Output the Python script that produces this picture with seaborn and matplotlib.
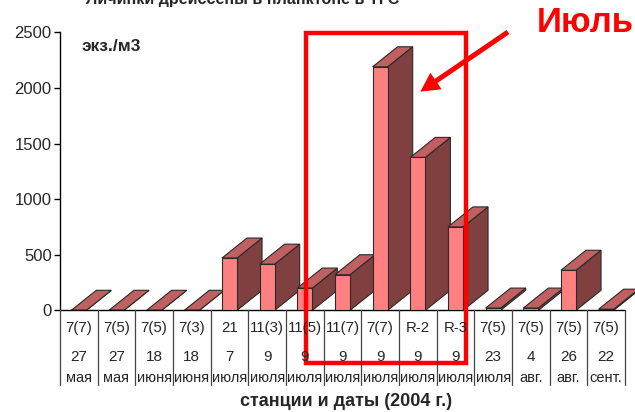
import numpy as np
import pandas as pd
import matplotlib
matplotlib.use("Agg")
import matplotlib.pyplot as plt
from matplotlib.patches import Polygon, Rectangle, FancyArrow
import seaborn as sns

# Stations, sampling dates and larvae density (ind./m3)
stations = ["7(7)", "7(5)", "7(5)", "7(3)", "21", "11(3)", "11(5)", "11(7)",
            "7(7)", "R-2", "R-3", "7(5)", "7(5)", "7(5)", "7(5)"]
days = ["27", "27", "18", "18", "7", "9", "9", "9", "9", "9", "9",
        "23", "4", "26", "22"]
months = ["мая", "мая", "июня", "июня", "июля", "июля", "июля", "июля",
          "июля", "июля", "июля", "июля", "авг.", "авг.", "сент."]
density = [0, 0, 0, 0, 470, 415, 200, 320, 2190, 1375, 750, 20, 20, 360, 10]

sns.set_theme(style="white")
plt.rcParams["font.family"] = ["Liberation Sans", "DejaVu Sans"]

W, H = 635, 412
fig = plt.figure(figsize=(W / 100, H / 100), dpi=100)
fig.patch.set_facecolor("white")

# axes box in pixel units
x0, x1, y_top, y_bot = 60, 625, 32.3, 310.3
ax = fig.add_axes([x0 / W, (H - y_bot) / H, (x1 - x0) / W, (y_bot - y_top) / H])

df = pd.DataFrame({"idx": np.arange(len(density)), "density": density})
FRONT = "#ff8080"
TOP = "#c06060"
SIDE = "#804040"
EDGE = "#2a2a2a"
sns.barplot(data=df, x="idx", y="density", color=FRONT, saturation=1,
            width=0.4, edgecolor=EDGE, linewidth=0.8, ax=ax, zorder=3)
ax.set_xlim(-0.5, len(density) - 0.5)
ax.set_ylim(0, 2500)
ax.set_yticks([0, 500, 1000, 1500, 2000, 2500])
ax.set_xticks([])
ax.set_xlabel("")
ax.set_ylabel("")
for s in ["top", "right"]:
    ax.spines[s].set_visible(False)
for s in ["left", "bottom"]:
    ax.spines[s].set_color("black")
    ax.spines[s].set_linewidth(1.0)
ax.tick_params(axis="y", direction="out", length=4, width=1, color="black",
               labelsize=12, pad=2, left=True)

# 3D depth of bars: offset in display pixels
DX, DY = 25, 20
fig.canvas.draw()
to_disp = ax.transData
to_data = ax.transData.inverted()
for p in list(ax.patches):
    xl = p.get_x()
    xr = xl + p.get_width()
    h = p.get_height()
    pts = to_disp.transform([(xl, h), (xr, h), (xr, 0)])
    (lx, ty), (rx, _), (_, by) = pts
    top = [(lx, ty), (rx, ty), (rx + DX, ty + DY), (lx + DX, ty + DY)]
    side = [(rx, by), (rx, ty), (rx + DX, ty + DY), (rx + DX, by + DY)]
    ax.add_patch(Polygon(to_data.transform(side), closed=True, facecolor=SIDE,
                         edgecolor=EDGE, linewidth=0.8, zorder=2, clip_on=False))
    ax.add_patch(Polygon(to_data.transform(top), closed=True, facecolor=TOP,
                         edgecolor=EDGE, linewidth=0.8, zorder=2, clip_on=False))

# overlay in pixel coordinates for the table and annotations
ov = fig.add_axes([0, 0, 1, 1], zorder=10)
ov.set_xlim(0, W)
ov.set_ylim(H, 0)
ov.axis("off")
ov.patch.set_alpha(0)

col_w = (x1 - x0) / len(density)
for i in range(len(density) + 1):
    xv = x0 + i * col_w
    ov.plot([xv, xv], [y_bot, 385], color="#444444", lw=0.9)
for i in range(len(density)):
    xc = x0 + (i + 0.5) * col_w
    ov.text(xc, 328, stations[i], ha="center", va="center", fontsize=10.8)
    ov.text(xc, 357, days[i], ha="center", va="center", fontsize=11)
    ov.text(xc, 378, months[i], ha="center", va="center", fontsize=10.5)

ov.text(346, 401, "станции и даты (2004 г.)", ha="center", va="center",
        fontsize=13, fontweight="bold")
ov.text(82, 46, "экз./м3", ha="left", va="center", fontsize=12.5,
        fontweight="bold")
ov.text(243, 4, "Личинки дрейссены в планктоне в ТГС", ha="center",
        va="baseline", fontsize=11.6, fontweight="bold")

# July highlight
ov.add_patch(Rectangle((306, 33), 160, 330, fill=False, edgecolor="#ff0000",
                       linewidth=3.2))
ov.add_patch(FancyArrow(508, 32, -72, 49, width=5, head_width=20,
                        head_length=19, length_includes_head=False,
                        color="#ff0000", linewidth=0))
ov.text(585, 22, "Июль", ha="center", va="center", fontsize=25,
        fontweight="bold", color="#ff0000")

fig.savefig("out.png", dpi=100, facecolor="white")
